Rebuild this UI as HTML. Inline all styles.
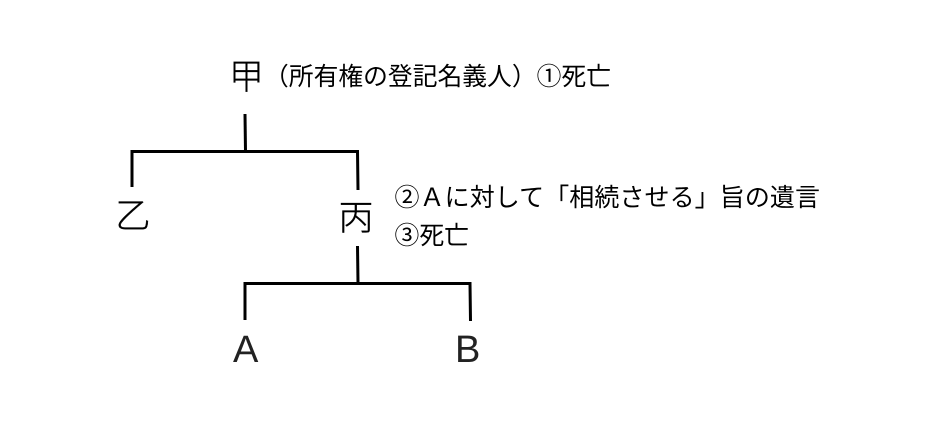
<!DOCTYPE html>
<html lang="ja">
<head>
<meta charset="utf-8">
<style>
html,body{margin:0;padding:0;background:#fff;width:930px;height:436px;overflow:hidden}
svg{display:block}
text{font-family:"Noto Sans CJK JP","Liberation Sans",sans-serif;fill:#000;font-weight:400}
text.big{font-weight:300;stroke:#000;stroke-width:.35}
text.latin{font-family:"Liberation Sans","Noto Sans CJK JP",sans-serif;fill:#222}
</style>
</head>
<body>
<svg width="930" height="436" viewBox="0 0 930 436" xmlns="http://www.w3.org/2000/svg">
<g fill="none" stroke="#000" stroke-width="3">
<path d="M245 114L245.500 151"/>
<path d="M132 187V151.500H357.500L358 190"/>
<path d="M357.500 246L358 283"/>
<path d="M245 320V283.500H470L470.500 321"/>
</g>
<text class="big" x="229" y="89" font-size="35">甲</text>
<text x="264" y="85" font-size="25" textLength="347" lengthAdjust="spacingAndGlyphs">（所有権の登記名義人）①死亡</text>
<text class="big" x="115.500" y="228" font-size="35">乙</text>
<text class="big" x="338.500" y="230" font-size="35">丙</text>
<text x="394.500" y="206" font-size="25" textLength="425.500" lengthAdjust="spacing">②Ａに対して「相続させる」旨の遺言</text>
<text x="394.500" y="244" font-size="25" textLength="74.500" lengthAdjust="spacingAndGlyphs">③死亡</text>
<text class="latin" x="233" y="362" font-size="38">A</text>
<text class="latin" x="455" y="362" font-size="38">B</text>
</svg>
</body>
</html>
